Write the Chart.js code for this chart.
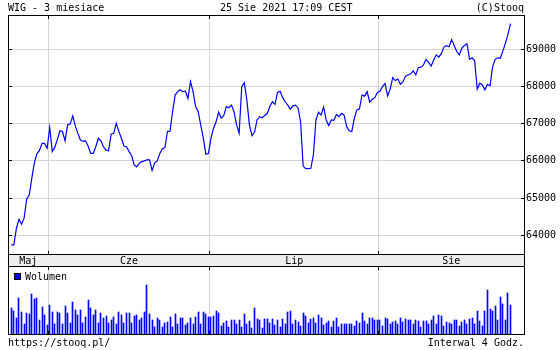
<!DOCTYPE html>
<html lang="pl">
<head>
<meta charset="UTF-8">
<title>WIG - 3 miesiace</title>
<script src="https://cdn.jsdelivr.net/npm/chart.js"></script>
<style>
  body { margin: 0; background: #fff; }
  #wrap { position: relative; width: 560px; height: 350px; font-family: 'DejaVu Sans Mono', monospace; font-size: 10px; line-height: 10px; color: #000; }
  #wrap canvas { position: absolute; left: 0; top: 0; }
  .txt { position: absolute; white-space: pre; }
</style>
</head>
<body>
<div id="wrap">
  <canvas id="myChart" width="560" height="350"></canvas>
  <div class="txt" style="left:8px;top:2.5px">WIG - 3 miesiace</div>
  <div class="txt" style="left:220px;top:2.5px">25 Sie 2021 17:09 CEST</div>
  <div class="txt" style="right:36px;top:2.5px">(C)Stooq</div>
  <div class="txt" style="left:8px;top:338px">https://stooq.pl/</div>
  <div class="txt" style="right:36px;top:338px">Interwal 4 Godz.</div>
</div>
<script>
// WIG, 4-hour bars, 25 May - 25 Aug 2021
const price = [
  63740, 63740, 64190, 64430, 64300, 64460, 64970, 65080, 65530, 65950,
  66190, 66280, 66470, 66470, 66340, 66900, 66250, 66370, 66580, 66810,
  66790, 66540, 66970, 66990, 67210, 66940, 66740, 66560, 66530, 66540,
  66400, 66200, 66200, 66380, 66610, 66540, 66380, 66290, 66270, 66720,
  66740, 67010, 66800, 66610, 66400, 66380, 66250, 66140, 65890, 65840,
  65940, 65980, 66000, 66030, 66030, 65740, 65950, 66000, 66200, 66320,
  66360, 66790, 66800, 67320, 67770, 67860, 67910, 67860, 67880, 67680,
  68130, 67860, 67460, 67320, 66970, 66610, 66180, 66200, 66610, 66880,
  67050, 67310, 67150, 67220, 67460, 67430, 67500, 67320, 66970, 66740,
  67990, 68100, 67640, 66970, 66680, 66770, 67100, 67190, 67160, 67220,
  67280, 67470, 67590, 67520, 67840, 67870, 67700, 67590, 67500, 67390,
  67480, 67500, 67430, 67050, 65860, 65790, 65790, 65800, 66160, 67100,
  67310, 67230, 67450, 67100, 66950, 67100, 67090, 67250, 67190, 67280,
  67230, 66920, 66810, 66790, 67150, 67370, 67400, 67770, 67740, 67860,
  67580, 67660, 67700, 67840, 67870, 68000, 68080, 67750, 67930, 68240,
  68160, 68200, 68060, 68130, 68280, 68310, 68340, 68420, 68310, 68510,
  68520, 68580, 68730, 68650, 68550, 68710, 68850, 68790, 68890, 69060,
  69100, 69070, 69260, 69100, 68940, 68850, 69030, 69100, 69150, 68730,
  68770, 68690, 67930, 68090, 68040, 67910, 68060, 68020, 68530, 68730,
  68770, 68760, 68950, 69160, 69400, 69690
];
const volume = [
  26, 23, 16, 36, 22, 10, 21, 20, 40, 35,
  36, 14, 27, 19, 9, 29, 22, 10, 22, 21,
  10, 28, 21, 11, 32, 24, 19, 24, 11, 17,
  34, 26, 19, 24, 11, 21, 16, 18, 11, 14,
  17, 10, 22, 19, 11, 21, 21, 11, 18, 19,
  14, 16, 22, 49, 20, 14, 7, 16, 14, 7,
  11, 12, 17, 7, 20, 10, 16, 16, 9, 11,
  16, 10, 17, 22, 10, 22, 20, 17, 17, 18,
  23, 21, 8, 11, 13, 7, 14, 14, 10, 14,
  7, 20, 10, 13, 6, 26, 15, 14, 6, 15,
  15, 11, 15, 9, 14, 7, 15, 10, 22, 23,
  10, 14, 12, 8, 21, 18, 11, 15, 16, 11,
  19, 16, 9, 11, 13, 7, 13, 16, 7, 10,
  10, 10, 10, 10, 8, 13, 11, 21, 13, 10,
  16, 16, 14, 14, 14, 8, 16, 15, 10, 12,
  13, 10, 16, 12, 15, 14, 14, 10, 14, 13,
  7, 13, 13, 10, 14, 18, 10, 19, 18, 8,
  12, 11, 10, 14, 14, 8, 12, 14, 10, 15,
  16, 10, 23, 13, 8, 23, 44, 25, 23, 28,
  14, 37, 30, 14, 41, 29
];
const monthLabels = ['Maj', 'Cze', 'Lip', 'Sie'];
const monthBreaks = [14.5, 77.5, 143.5];   // bar index where a new month starts
const priceTicks = [64000, 65000, 66000, 67000, 68000, 69000];

const FONT = "10px 'DejaVu Sans Mono', monospace";

// snap the 1px volume bars to whole pixels so they stay sharp
const snapBars = {
  id: 'snapBars',
  afterDatasetsUpdate(chart) {
    const meta = chart.getDatasetMeta(1);
    meta.data.forEach(el => { el.x = Math.floor(el.x) + 0.5; });
  }
};

// frame, month strip and volume legend
const frame = {
  id: 'frame',
  afterDraw(chart) {
    const ctx = chart.ctx;
    const a = chart.chartArea;
    const xs = chart.scales.x, ys = chart.scales.y;
    const L = Math.round(a.left), R = Math.round(a.right);
    const T = Math.round(a.top), B = Math.round(a.bottom) - 1;
    const stripTop = 254, stripBot = 266;
    ctx.save();
    // month strip
    ctx.fillStyle = '#eeeeee';
    ctx.fillRect(L, stripTop, R - L, stripBot - stripTop);
    ctx.fillStyle = '#000';
    ctx.fillRect(L, stripTop, R - L + 1, 1);
    ctx.fillRect(L, stripBot, R - L + 1, 1);
    // border
    ctx.fillRect(L, T, R - L + 1, 1);
    ctx.fillRect(L, B, R - L + 1, 1);
    ctx.fillRect(L, T, 1, B - T + 1);
    ctx.fillRect(R, T, 1, B - T + 1);
    // month ticks
    monthBreaks.forEach(b => {
      const c = Math.floor(xs.getPixelForValue(b));
      ctx.fillRect(c, T, 1, 4);
      ctx.fillRect(c, stripTop - 3, 1, 3);
      ctx.fillRect(c, stripBot + 1, 1, 3);
      ctx.fillRect(c, B - 3, 1, 3);
    });
    // price ticks
    priceTicks.forEach(v => {
      const r = Math.floor(ys.getPixelForValue(v));
      ctx.fillRect(L + 1, r, 3, 1);
      ctx.fillRect(R - 3, r, 3, 1);
    });
    // month labels
    ctx.font = FONT;
    ctx.textAlign = 'center';
    ctx.textBaseline = 'alphabetic';
    const edges = [xs.min].concat(monthBreaks, [xs.max]);
    monthLabels.forEach((m, i) => {
      const cx = (xs.getPixelForValue(edges[i]) + xs.getPixelForValue(edges[i + 1])) / 2;
      ctx.fillText(m, cx, stripBot - 2.5);
    });
    // volume legend
    ctx.fillRect(14, 273, 7, 7);
    ctx.fillStyle = '#0000ff';
    ctx.fillRect(15, 274, 5, 5);
    ctx.fillStyle = '#000';
    ctx.textAlign = 'left';
    ctx.fillText('Wolumen', 25, 280);
    ctx.restore();
  }
};

const ctx = document.getElementById('myChart').getContext('2d');
const myChart = new Chart(ctx, {
  type: 'line',
  data: {
    datasets: [{
      type: 'line',
      data: price.map((v, i) => ({ x: i, y: v })),
      borderColor: '#0000ff',
      borderWidth: 1.2,
      pointRadius: 0,
      tension: 0,
      yAxisID: 'y'
    }, {
      type: 'bar',
      data: volume.map((v, i) => ({ x: i, y: v })),
      backgroundColor: '#0000ff',
      barThickness: 1,
      yAxisID: 'y2'
    }]
  },
  options: {
    responsive: false,
    animation: false,
    events: [],
    layout: { padding: { left: 8, top: 15, right: 0, bottom: 15 } },
    plugins: { legend: { display: false }, tooltip: { enabled: false } },
    scales: {
      x: {
        type: 'linear',
        min: -1.29,
        max: 200.27,
        offset: false,
        grid: { color: '#d4d4d4', drawTicks: false, offset: false },
        border: { display: false },
        ticks: { display: false },
        afterBuildTicks: s => { s.ticks = monthBreaks.map(v => ({ value: v })); },
        afterFit: s => { s.height = 0; }
      },
      y: {
        position: 'right',
        min: 61320,
        max: 69922,
        grid: { color: '#d4d4d4', drawTicks: false },
        border: { display: false },
        ticks: {
          color: '#000',
          padding: 2,
          font: { family: "'DejaVu Sans Mono', monospace", size: 10 },
          callback: v => String(v)
        },
        afterBuildTicks: s => { s.ticks = priceTicks.map(v => ({ value: v })); },
        afterFit: s => { s.width = 36; }
      },
      y2: { display: false, min: -1, max: 319 }
    }
  },
  plugins: [snapBars, frame]
});
</script>
</body>
</html>
